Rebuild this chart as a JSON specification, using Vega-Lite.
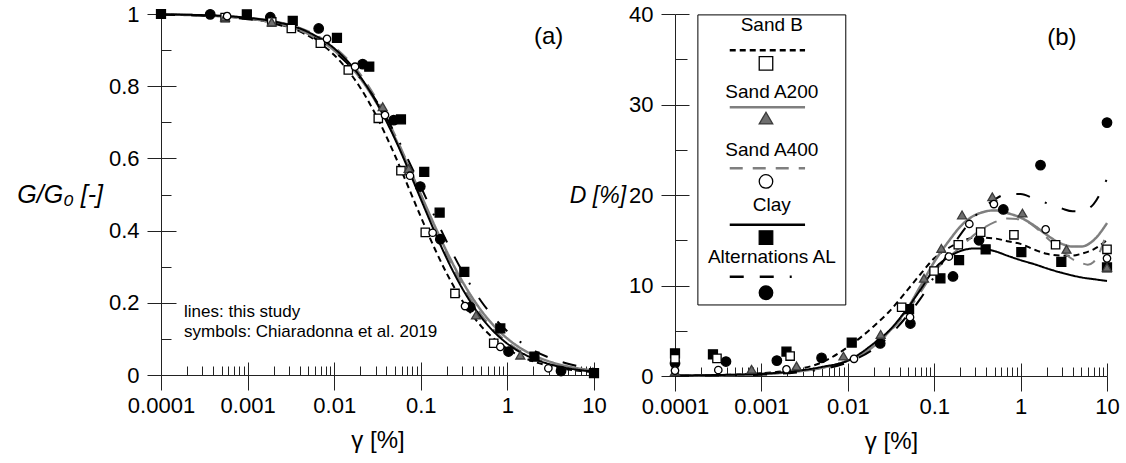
{
  "$schema": "https://vega.github.io/schema/vega-lite/v6.json",
  "background": "white",
  "padding": {"left": 16, "top": 3, "right": 5, "bottom": 5},
  "config": {
    "view": {"stroke": null},
    "font": "Liberation Sans",
    "axis": {
      "grid": false, "domainColor": "#222222", "tickColor": "#222222", "domainWidth": 1, "tickWidth": 1,
      "labelFont": "Liberation Sans", "labelFontSize": 22, "labelColor": "#000000",
      "titleFont": "Liberation Sans", "titleFontSize": 24, "titleFontWeight": "normal", "titleColor": "#000000",
      "labelFlush": false, "labelOverlap": false
    }
  },
  "datasets": {
    "gl": [
      {"series": "Sand B", "gamma": 0.0001, "G": 0.9987}, {"series": "Sand B", "gamma": 0.0002, "G": 0.9974}, {"series": "Sand B", "gamma": 0.0005, "G": 0.9936}, {"series": "Sand B", "gamma": 0.001, "G": 0.9873}, {"series": "Sand B", "gamma": 0.002, "G": 0.975}, {"series": "Sand B", "gamma": 0.005, "G": 0.9398}, {"series": "Sand B", "gamma": 0.01, "G": 0.8864}, {"series": "Sand B", "gamma": 0.02, "G": 0.7959}, {"series": "Sand B", "gamma": 0.03, "G": 0.7222}, {"series": "Sand B", "gamma": 0.05, "G": 0.6094}, {"series": "Sand B", "gamma": 0.07, "G": 0.527}, {"series": "Sand B", "gamma": 0.1, "G": 0.4382}, {"series": "Sand B", "gamma": 0.15, "G": 0.3421}, {"series": "Sand B", "gamma": 0.2, "G": 0.2806}, {"series": "Sand B", "gamma": 0.3, "G": 0.2063}, {"series": "Sand B", "gamma": 0.5, "G": 0.1349}, {"series": "Sand B", "gamma": 0.7, "G": 0.1003}, {"series": "Sand B", "gamma": 1, "G": 0.0724}, {"series": "Sand B", "gamma": 2, "G": 0.0375}, {"series": "Sand B", "gamma": 3, "G": 0.0253}, {"series": "Sand B", "gamma": 5, "G": 0.0154}, {"series": "Sand B", "gamma": 7, "G": 0.011}, {"series": "Sand B", "gamma": 10, "G": 0.0077},
      {"series": "Sand A200", "gamma": 0.0001, "G": 0.9986}, {"series": "Sand A200", "gamma": 0.0002, "G": 0.9973}, {"series": "Sand A200", "gamma": 0.0005, "G": 0.9935}, {"series": "Sand A200", "gamma": 0.001, "G": 0.9876}, {"series": "Sand A200", "gamma": 0.002, "G": 0.9763}, {"series": "Sand A200", "gamma": 0.005, "G": 0.9451}, {"series": "Sand A200", "gamma": 0.01, "G": 0.8991}, {"series": "Sand A200", "gamma": 0.02, "G": 0.8218}, {"series": "Sand A200", "gamma": 0.03, "G": 0.7584}, {"series": "Sand A200", "gamma": 0.05, "G": 0.6589}, {"series": "Sand A200", "gamma": 0.07, "G": 0.5838}, {"series": "Sand A200", "gamma": 0.1, "G": 0.5}, {"series": "Sand A200", "gamma": 0.15, "G": 0.4049}, {"series": "Sand A200", "gamma": 0.2, "G": 0.3411}, {"series": "Sand A200", "gamma": 0.3, "G": 0.2604}, {"series": "Sand A200", "gamma": 0.5, "G": 0.1782}, {"series": "Sand A200", "gamma": 0.7, "G": 0.1361}, {"series": "Sand A200", "gamma": 1, "G": 0.1009}, {"series": "Sand A200", "gamma": 2, "G": 0.0549}, {"series": "Sand A200", "gamma": 3, "G": 0.038}, {"series": "Sand A200", "gamma": 5, "G": 0.0238}, {"series": "Sand A200", "gamma": 7, "G": 0.0174}, {"series": "Sand A200", "gamma": 10, "G": 0.0124},
      {"series": "Sand A400", "gamma": 0.0001, "G": 0.999}, {"series": "Sand A400", "gamma": 0.0002, "G": 0.998}, {"series": "Sand A400", "gamma": 0.0005, "G": 0.995}, {"series": "Sand A400", "gamma": 0.001, "G": 0.9901}, {"series": "Sand A400", "gamma": 0.002, "G": 0.9804}, {"series": "Sand A400", "gamma": 0.005, "G": 0.9524}, {"series": "Sand A400", "gamma": 0.01, "G": 0.9091}, {"series": "Sand A400", "gamma": 0.02, "G": 0.8333}, {"series": "Sand A400", "gamma": 0.03, "G": 0.7692}, {"series": "Sand A400", "gamma": 0.05, "G": 0.6667}, {"series": "Sand A400", "gamma": 0.07, "G": 0.5882}, {"series": "Sand A400", "gamma": 0.1, "G": 0.5}, {"series": "Sand A400", "gamma": 0.15, "G": 0.4}, {"series": "Sand A400", "gamma": 0.2, "G": 0.3333}, {"series": "Sand A400", "gamma": 0.3, "G": 0.25}, {"series": "Sand A400", "gamma": 0.5, "G": 0.1667}, {"series": "Sand A400", "gamma": 0.7, "G": 0.125}, {"series": "Sand A400", "gamma": 1, "G": 0.0909}, {"series": "Sand A400", "gamma": 2, "G": 0.0476}, {"series": "Sand A400", "gamma": 3, "G": 0.0323}, {"series": "Sand A400", "gamma": 5, "G": 0.0196}, {"series": "Sand A400", "gamma": 7, "G": 0.0141}, {"series": "Sand A400", "gamma": 10, "G": 0.0099},
      {"series": "Clay", "gamma": 0.0001, "G": 0.9989}, {"series": "Clay", "gamma": 0.0002, "G": 0.9979}, {"series": "Clay", "gamma": 0.0005, "G": 0.9948}, {"series": "Clay", "gamma": 0.001, "G": 0.9896}, {"series": "Clay", "gamma": 0.002, "G": 0.9794}, {"series": "Clay", "gamma": 0.005, "G": 0.95}, {"series": "Clay", "gamma": 0.01, "G": 0.9048}, {"series": "Clay", "gamma": 0.02, "G": 0.8261}, {"series": "Clay", "gamma": 0.03, "G": 0.76}, {"series": "Clay", "gamma": 0.05, "G": 0.6552}, {"series": "Clay", "gamma": 0.07, "G": 0.5758}, {"series": "Clay", "gamma": 0.1, "G": 0.4872}, {"series": "Clay", "gamma": 0.15, "G": 0.3878}, {"series": "Clay", "gamma": 0.2, "G": 0.322}, {"series": "Clay", "gamma": 0.3, "G": 0.2405}, {"series": "Clay", "gamma": 0.5, "G": 0.1597}, {"series": "Clay", "gamma": 0.7, "G": 0.1195}, {"series": "Clay", "gamma": 1, "G": 0.0867}, {"series": "Clay", "gamma": 2, "G": 0.0454}, {"series": "Clay", "gamma": 3, "G": 0.0307}, {"series": "Clay", "gamma": 5, "G": 0.0187}, {"series": "Clay", "gamma": 7, "G": 0.0134}, {"series": "Clay", "gamma": 10, "G": 0.0094},
      {"series": "Alternations AL", "gamma": 0.0001, "G": 0.9982}, {"series": "Alternations AL", "gamma": 0.0002, "G": 0.9966}, {"series": "Alternations AL", "gamma": 0.0005, "G": 0.9923}, {"series": "Alternations AL", "gamma": 0.001, "G": 0.9857}, {"series": "Alternations AL", "gamma": 0.002, "G": 0.9735}, {"series": "Alternations AL", "gamma": 0.005, "G": 0.9417}, {"series": "Alternations AL", "gamma": 0.01, "G": 0.8964}, {"series": "Alternations AL", "gamma": 0.02, "G": 0.8225}, {"series": "Alternations AL", "gamma": 0.03, "G": 0.763}, {"series": "Alternations AL", "gamma": 0.05, "G": 0.6702}, {"series": "Alternations AL", "gamma": 0.07, "G": 0.6003}, {"series": "Alternations AL", "gamma": 0.1, "G": 0.5214}, {"series": "Alternations AL", "gamma": 0.15, "G": 0.4307}, {"series": "Alternations AL", "gamma": 0.2, "G": 0.3686}, {"series": "Alternations AL", "gamma": 0.3, "G": 0.2884}, {"series": "Alternations AL", "gamma": 0.5, "G": 0.2037}, {"series": "Alternations AL", "gamma": 0.7, "G": 0.159}, {"series": "Alternations AL", "gamma": 1, "G": 0.1206}, {"series": "Alternations AL", "gamma": 2, "G": 0.0685}, {"series": "Alternations AL", "gamma": 3, "G": 0.0485}, {"series": "Alternations AL", "gamma": 5, "G": 0.0312}, {"series": "Alternations AL", "gamma": 7, "G": 0.0233}, {"series": "Alternations AL", "gamma": 10, "G": 0.017}
    ],
    "gp": [
      {"series": "Clay", "gamma": 0.0001, "G": 1.0}, {"series": "Clay", "gamma": 0.00098, "G": 0.999}, {"series": "Clay", "gamma": 0.00332, "G": 0.981}, {"series": "Clay", "gamma": 0.01076, "G": 0.934}, {"series": "Clay", "gamma": 0.0254, "G": 0.854}, {"series": "Clay", "gamma": 0.059, "G": 0.708}, {"series": "Clay", "gamma": 0.1096, "G": 0.563}, {"series": "Clay", "gamma": 0.165, "G": 0.45}, {"series": "Clay", "gamma": 0.318, "G": 0.286}, {"series": "Clay", "gamma": 0.828, "G": 0.129}, {"series": "Clay", "gamma": 2.05, "G": 0.051}, {"series": "Clay", "gamma": 10, "G": 0.005},
      {"series": "Alternations AL", "gamma": 0.00037, "G": 0.999}, {"series": "Alternations AL", "gamma": 0.00183, "G": 0.991}, {"series": "Alternations AL", "gamma": 0.00662, "G": 0.96}, {"series": "Alternations AL", "gamma": 0.0213, "G": 0.861}, {"series": "Alternations AL", "gamma": 0.0487, "G": 0.706}, {"series": "Alternations AL", "gamma": 0.0986, "G": 0.522}, {"series": "Alternations AL", "gamma": 0.168, "G": 0.376}, {"series": "Alternations AL", "gamma": 0.373, "G": 0.188}, {"series": "Alternations AL", "gamma": 1.03, "G": 0.065}, {"series": "Alternations AL", "gamma": 4.16, "G": 0.011},
      {"series": "Sand B", "gamma": 0.00055, "G": 0.99}, {"series": "Sand B", "gamma": 0.0019, "G": 0.978}, {"series": "Sand B", "gamma": 0.0032, "G": 0.96}, {"series": "Sand B", "gamma": 0.00692, "G": 0.919}, {"series": "Sand B", "gamma": 0.01455, "G": 0.845}, {"series": "Sand B", "gamma": 0.0323, "G": 0.711}, {"series": "Sand B", "gamma": 0.059, "G": 0.566}, {"series": "Sand B", "gamma": 0.1127, "G": 0.395}, {"series": "Sand B", "gamma": 0.248, "G": 0.226}, {"series": "Sand B", "gamma": 0.695, "G": 0.088},
      {"series": "Sand A200", "gamma": 0.00055, "G": 0.992}, {"series": "Sand A200", "gamma": 0.0019, "G": 0.978}, {"series": "Sand A200", "gamma": 0.0363, "G": 0.743}, {"series": "Sand A200", "gamma": 0.0724, "G": 0.572}, {"series": "Sand A200", "gamma": 0.434, "G": 0.166}, {"series": "Sand A200", "gamma": 1.41, "G": 0.055},
      {"series": "Sand A400", "gamma": 0.00058, "G": 0.994}, {"series": "Sand A400", "gamma": 0.00826, "G": 0.931}, {"series": "Sand A400", "gamma": 0.0174, "G": 0.854}, {"series": "Sand A400", "gamma": 0.0386, "G": 0.72}, {"series": "Sand A400", "gamma": 0.075, "G": 0.552}, {"series": "Sand A400", "gamma": 0.137, "G": 0.394}, {"series": "Sand A400", "gamma": 0.324, "G": 0.191}, {"series": "Sand A400", "gamma": 0.828, "G": 0.078}, {"series": "Sand A400", "gamma": 2.97, "G": 0.0186}
    ],
    "dl": [
      {"series": "Sand B", "gamma": 0.0001, "D": 0.05}, {"series": "Sand B", "gamma": 0.0002, "D": 0.08}, {"series": "Sand B", "gamma": 0.0005, "D": 0.15}, {"series": "Sand B", "gamma": 0.001, "D": 0.3}, {"series": "Sand B", "gamma": 0.002, "D": 0.6}, {"series": "Sand B", "gamma": 0.005, "D": 1.5}, {"series": "Sand B", "gamma": 0.01, "D": 3.2}, {"series": "Sand B", "gamma": 0.02, "D": 5.5}, {"series": "Sand B", "gamma": 0.03, "D": 7.1}, {"series": "Sand B", "gamma": 0.05, "D": 9.6}, {"series": "Sand B", "gamma": 0.07, "D": 11.3}, {"series": "Sand B", "gamma": 0.1, "D": 13.0}, {"series": "Sand B", "gamma": 0.15, "D": 14.2}, {"series": "Sand B", "gamma": 0.2, "D": 14.8}, {"series": "Sand B", "gamma": 0.3, "D": 15.3}, {"series": "Sand B", "gamma": 0.5, "D": 15.2}, {"series": "Sand B", "gamma": 0.7, "D": 14.9}, {"series": "Sand B", "gamma": 1, "D": 14.6}, {"series": "Sand B", "gamma": 1.5, "D": 13.9}, {"series": "Sand B", "gamma": 2, "D": 13.5}, {"series": "Sand B", "gamma": 3, "D": 13.3}, {"series": "Sand B", "gamma": 4, "D": 13.3}, {"series": "Sand B", "gamma": 5, "D": 13.5}, {"series": "Sand B", "gamma": 7, "D": 14.0}, {"series": "Sand B", "gamma": 10, "D": 15.0},
      {"series": "Sand A200", "gamma": 0.0001, "D": 0.05}, {"series": "Sand A200", "gamma": 0.0002, "D": 0.07}, {"series": "Sand A200", "gamma": 0.0005, "D": 0.12}, {"series": "Sand A200", "gamma": 0.001, "D": 0.2}, {"series": "Sand A200", "gamma": 0.002, "D": 0.4}, {"series": "Sand A200", "gamma": 0.005, "D": 0.9}, {"series": "Sand A200", "gamma": 0.01, "D": 1.7}, {"series": "Sand A200", "gamma": 0.02, "D": 3.3}, {"series": "Sand A200", "gamma": 0.03, "D": 4.9}, {"series": "Sand A200", "gamma": 0.05, "D": 7.6}, {"series": "Sand A200", "gamma": 0.07, "D": 10.0}, {"series": "Sand A200", "gamma": 0.1, "D": 12.6}, {"series": "Sand A200", "gamma": 0.15, "D": 15.0}, {"series": "Sand A200", "gamma": 0.2, "D": 16.5}, {"series": "Sand A200", "gamma": 0.3, "D": 17.8}, {"series": "Sand A200", "gamma": 0.5, "D": 18.3}, {"series": "Sand A200", "gamma": 0.7, "D": 18.0}, {"series": "Sand A200", "gamma": 1, "D": 17.5}, {"series": "Sand A200", "gamma": 1.5, "D": 16.5}, {"series": "Sand A200", "gamma": 2, "D": 15.6}, {"series": "Sand A200", "gamma": 3, "D": 14.6}, {"series": "Sand A200", "gamma": 4, "D": 14.3}, {"series": "Sand A200", "gamma": 5, "D": 14.3}, {"series": "Sand A200", "gamma": 7, "D": 15.0}, {"series": "Sand A200", "gamma": 10, "D": 16.9},
      {"series": "Sand A400", "gamma": 0.0001, "D": 0.05}, {"series": "Sand A400", "gamma": 0.0002, "D": 0.07}, {"series": "Sand A400", "gamma": 0.0005, "D": 0.12}, {"series": "Sand A400", "gamma": 0.001, "D": 0.2}, {"series": "Sand A400", "gamma": 0.002, "D": 0.4}, {"series": "Sand A400", "gamma": 0.005, "D": 0.9}, {"series": "Sand A400", "gamma": 0.01, "D": 1.7}, {"series": "Sand A400", "gamma": 0.02, "D": 3.3}, {"series": "Sand A400", "gamma": 0.03, "D": 4.8}, {"series": "Sand A400", "gamma": 0.05, "D": 7.3}, {"series": "Sand A400", "gamma": 0.07, "D": 9.3}, {"series": "Sand A400", "gamma": 0.1, "D": 11.5}, {"series": "Sand A400", "gamma": 0.15, "D": 13.2}, {"series": "Sand A400", "gamma": 0.2, "D": 14.2}, {"series": "Sand A400", "gamma": 0.3, "D": 15.7}, {"series": "Sand A400", "gamma": 0.5, "D": 17.0}, {"series": "Sand A400", "gamma": 0.7, "D": 17.4}, {"series": "Sand A400", "gamma": 1, "D": 17.3}, {"series": "Sand A400", "gamma": 1.5, "D": 16.4}, {"series": "Sand A400", "gamma": 2, "D": 15.3}, {"series": "Sand A400", "gamma": 3, "D": 13.8}, {"series": "Sand A400", "gamma": 4, "D": 12.9}, {"series": "Sand A400", "gamma": 5, "D": 12.5}, {"series": "Sand A400", "gamma": 6, "D": 12.3}, {"series": "Sand A400", "gamma": 7, "D": 12.6}, {"series": "Sand A400", "gamma": 8.5, "D": 14.0}, {"series": "Sand A400", "gamma": 10, "D": 16.0},
      {"series": "Clay", "gamma": 0.0001, "D": 0.05}, {"series": "Clay", "gamma": 0.0002, "D": 0.08}, {"series": "Clay", "gamma": 0.0005, "D": 0.15}, {"series": "Clay", "gamma": 0.001, "D": 0.25}, {"series": "Clay", "gamma": 0.002, "D": 0.45}, {"series": "Clay", "gamma": 0.005, "D": 1.0}, {"series": "Clay", "gamma": 0.01, "D": 1.7}, {"series": "Clay", "gamma": 0.02, "D": 3.6}, {"series": "Clay", "gamma": 0.03, "D": 5.0}, {"series": "Clay", "gamma": 0.05, "D": 7.6}, {"series": "Clay", "gamma": 0.07, "D": 9.6}, {"series": "Clay", "gamma": 0.1, "D": 11.8}, {"series": "Clay", "gamma": 0.15, "D": 13.2}, {"series": "Clay", "gamma": 0.2, "D": 13.8}, {"series": "Clay", "gamma": 0.3, "D": 14.1}, {"series": "Clay", "gamma": 0.5, "D": 13.8}, {"series": "Clay", "gamma": 0.7, "D": 13.3}, {"series": "Clay", "gamma": 1, "D": 12.8}, {"series": "Clay", "gamma": 1.5, "D": 12.3}, {"series": "Clay", "gamma": 2, "D": 11.9}, {"series": "Clay", "gamma": 3, "D": 11.4}, {"series": "Clay", "gamma": 4, "D": 11.1}, {"series": "Clay", "gamma": 5, "D": 10.9}, {"series": "Clay", "gamma": 7, "D": 10.7}, {"series": "Clay", "gamma": 10, "D": 10.5},
      {"series": "Alternations AL", "gamma": 0.0001, "D": 0.02}, {"series": "Alternations AL", "gamma": 0.0002, "D": 0.04}, {"series": "Alternations AL", "gamma": 0.0005, "D": 0.08}, {"series": "Alternations AL", "gamma": 0.001, "D": 0.15}, {"series": "Alternations AL", "gamma": 0.002, "D": 0.3}, {"series": "Alternations AL", "gamma": 0.005, "D": 0.75}, {"series": "Alternations AL", "gamma": 0.01, "D": 1.5}, {"series": "Alternations AL", "gamma": 0.02, "D": 3.0}, {"series": "Alternations AL", "gamma": 0.03, "D": 4.4}, {"series": "Alternations AL", "gamma": 0.05, "D": 6.8}, {"series": "Alternations AL", "gamma": 0.07, "D": 8.6}, {"series": "Alternations AL", "gamma": 0.1, "D": 11.0}, {"series": "Alternations AL", "gamma": 0.15, "D": 13.8}, {"series": "Alternations AL", "gamma": 0.2, "D": 15.6}, {"series": "Alternations AL", "gamma": 0.3, "D": 17.7}, {"series": "Alternations AL", "gamma": 0.5, "D": 19.5}, {"series": "Alternations AL", "gamma": 0.7, "D": 20.1}, {"series": "Alternations AL", "gamma": 1, "D": 20.1}, {"series": "Alternations AL", "gamma": 1.5, "D": 19.5}, {"series": "Alternations AL", "gamma": 2, "D": 19.1}, {"series": "Alternations AL", "gamma": 3, "D": 18.5}, {"series": "Alternations AL", "gamma": 4, "D": 18.2}, {"series": "Alternations AL", "gamma": 5, "D": 18.2}, {"series": "Alternations AL", "gamma": 7, "D": 19.0}, {"series": "Alternations AL", "gamma": 10, "D": 21.8}
    ],
    "dp": [
      {"series": "Clay", "gamma": 0.0001, "D": 2.5}, {"series": "Clay", "gamma": 0.000275, "D": 2.4}, {"series": "Clay", "gamma": 0.00195, "D": 2.7}, {"series": "Clay", "gamma": 0.0111, "D": 3.7}, {"series": "Clay", "gamma": 0.0512, "D": 7.4}, {"series": "Clay", "gamma": 0.118, "D": 10.8}, {"series": "Clay", "gamma": 0.194, "D": 12.8}, {"series": "Clay", "gamma": 0.394, "D": 14.0}, {"series": "Clay", "gamma": 1.02, "D": 13.7}, {"series": "Clay", "gamma": 2.96, "D": 12.6}, {"series": "Clay", "gamma": 10, "D": 12.0},
      {"series": "Alternations AL", "gamma": 0.0001, "D": 1.4}, {"series": "Alternations AL", "gamma": 0.000389, "D": 1.6}, {"series": "Alternations AL", "gamma": 0.00151, "D": 1.7}, {"series": "Alternations AL", "gamma": 0.00497, "D": 2.0}, {"series": "Alternations AL", "gamma": 0.0237, "D": 3.6}, {"series": "Alternations AL", "gamma": 0.053, "D": 5.8}, {"series": "Alternations AL", "gamma": 0.165, "D": 11.0}, {"series": "Alternations AL", "gamma": 0.33, "D": 15.0}, {"series": "Alternations AL", "gamma": 0.631, "D": 18.4}, {"series": "Alternations AL", "gamma": 1.7, "D": 23.3}, {"series": "Alternations AL", "gamma": 10, "D": 28.0},
      {"series": "Sand B", "gamma": 0.0001, "D": 1.9}, {"series": "Sand B", "gamma": 0.000306, "D": 1.95}, {"series": "Sand B", "gamma": 0.00215, "D": 2.2}, {"series": "Sand B", "gamma": 0.042, "D": 7.6}, {"series": "Sand B", "gamma": 0.0996, "D": 11.6}, {"series": "Sand B", "gamma": 0.19, "D": 14.5}, {"series": "Sand B", "gamma": 0.345, "D": 15.9}, {"series": "Sand B", "gamma": 0.837, "D": 15.6}, {"series": "Sand B", "gamma": 2.54, "D": 14.5}, {"series": "Sand B", "gamma": 10, "D": 14.0},
      {"series": "Sand A200", "gamma": 0.0001, "D": 0.5}, {"series": "Sand A200", "gamma": 0.00077, "D": 0.74}, {"series": "Sand A200", "gamma": 0.00255, "D": 1.1}, {"series": "Sand A200", "gamma": 0.0089, "D": 2.2}, {"series": "Sand A200", "gamma": 0.024, "D": 4.6}, {"series": "Sand A200", "gamma": 0.0762, "D": 10.8}, {"series": "Sand A200", "gamma": 0.121, "D": 14.1}, {"series": "Sand A200", "gamma": 0.21, "D": 17.8}, {"series": "Sand A200", "gamma": 0.471, "D": 19.8}, {"series": "Sand A200", "gamma": 1.05, "D": 18.0}, {"series": "Sand A200", "gamma": 3.4, "D": 14.0}, {"series": "Sand A200", "gamma": 10, "D": 12.0},
      {"series": "Sand A400", "gamma": 0.0001, "D": 0.6}, {"series": "Sand A400", "gamma": 0.000317, "D": 0.66}, {"series": "Sand A400", "gamma": 0.00195, "D": 0.74}, {"series": "Sand A400", "gamma": 0.0118, "D": 1.9}, {"series": "Sand A400", "gamma": 0.0525, "D": 6.5}, {"series": "Sand A400", "gamma": 0.148, "D": 13.2}, {"series": "Sand A400", "gamma": 0.255, "D": 16.8}, {"series": "Sand A400", "gamma": 0.491, "D": 19.0}, {"series": "Sand A400", "gamma": 1.95, "D": 16.2}, {"series": "Sand A400", "gamma": 10, "D": 13.0}
    ]
  },
  "bounds": "flush",
  "spacing": 81,
  "hconcat": [
    {
      "width": 433,
      "height": 361,
      "resolve": {"axis": {"x": "independent", "y": "independent"}},
      "layer": [
        {
          "data": {"name": "gl"},
          "mark": {"type": "line", "interpolate": "monotone"},
          "encoding": {
            "x": {"field": "gamma", "type": "quantitative", "scale": {"type": "log", "domain": [0.0001, 10]},
              "axis": {"orient": "bottom", "values": [0.0001, 0.001, 0.01, 0.1, 1, 10], "format": "~g", "tickSize": 15, "labelPadding": 5, "title": "γ [%]", "titlePadding": 12}},
            "y": {"field": "G", "type": "quantitative", "scale": {"domain": [0, 1]},
              "axis": {"orient": "left", "values": [0, 0.2, 0.4, 0.6, 0.8, 1], "format": "~g", "tickSize": 14, "labelPadding": 8, "title": "G/G₀ [-]", "titleFontSize": 25, "titleAngle": 0, "titleAlign": "right", "titleBaseline": "middle", "titlePadding": 6, "titleFontStyle": "italic"}},
            "detail": {"field": "series"},
            "color": {"field": "series", "type": "nominal", "legend": null, "scale": {"domain": ["Sand B", "Sand A200", "Sand A400", "Clay", "Alternations AL"], "range": ["#000000", "#7f7f7f", "#7f7f7f", "#000000", "#000000"]}},
            "strokeDash": {"field": "series", "type": "nominal", "legend": null, "scale": {"domain": ["Sand B", "Sand A200", "Sand A400", "Clay", "Alternations AL"], "range": [[6, 4], [1, 0], [13, 10], [1, 0], [14, 16, 14, 16, 2, 16]]}},
            "strokeWidth": {"field": "series", "type": "nominal", "legend": null, "scale": {"type": "ordinal", "domain": ["Sand B", "Sand A200", "Sand A400", "Clay", "Alternations AL"], "range": [2, 2.5, 2, 2, 2]}}
          }
        },
        {
          "data": {"name": "gp"},
          "mark": {"type": "point", "filled": true, "opacity": 1, "strokeWidth": 1.3},
          "encoding": {
            "x": {"field": "gamma", "type": "quantitative", "scale": {"type": "log", "domain": [0.0001, 10]},
              "axis": {"orient": "bottom", "values": [0.0001, 0.0002, 0.0003, 0.0004, 0.0005, 0.0006, 0.0007, 0.0008, 0.0009, 0.001, 0.002, 0.003, 0.004, 0.005, 0.006, 0.007, 0.008, 0.009, 0.01, 0.02, 0.03, 0.04, 0.05, 0.06, 0.07, 0.08, 0.09, 0.1, 0.2, 0.3, 0.4, 0.5, 0.6, 0.7, 0.8, 0.9, 1, 2, 3, 4, 5, 6, 7, 8, 9, 10],
                "tickSize": {"condition": {"test": "abs(log(datum.value)/LN10 - round(log(datum.value)/LN10)) < 0.001", "value": -13}, "value": -9},
                "labels": false, "domain": false, "title": null}},
            "y": {"field": "G", "type": "quantitative", "scale": {"domain": [0, 1]},
              "axis": {"orient": "left", "values": [0, 0.1, 0.2, 0.3, 0.4, 0.5, 0.6, 0.7, 0.8, 0.9, 1],
                "tickSize": {"condition": {"test": "abs(datum.value*5 - round(datum.value*5)) < 0.001", "value": -15}, "value": -10},
                "labels": false, "domain": false, "title": null}},
            "shape": {"field": "series", "type": "nominal", "legend": null, "scale": {"domain": ["Sand B", "Sand A200", "Sand A400", "Clay", "Alternations AL"], "range": ["square", "triangle-up", "circle", "square", "circle"]}},
            "fill": {"field": "series", "type": "nominal", "legend": null, "scale": {"domain": ["Sand B", "Sand A200", "Sand A400", "Clay", "Alternations AL"], "range": ["#ffffff", "#6e6e6e", "#ffffff", "#000000", "#000000"]}},
            "stroke": {"field": "series", "type": "nominal", "legend": null, "scale": {"domain": ["Sand B", "Sand A200", "Sand A400", "Clay", "Alternations AL"], "range": ["#000000", "#3a3a3a", "#000000", "#000000", "#000000"]}},
            "size": {"field": "series", "type": "nominal", "legend": null, "scale": {"type": "ordinal", "domain": ["Sand B", "Sand A200", "Sand A400", "Clay", "Alternations AL"], "range": [70, 80, 55, 80, 90]}}
          }
        },
        {
          "data": {"values": [{"note": ["lines: this study", "symbols: Chiaradonna et al. 2019"]}]},
          "mark": {"type": "text", "align": "left", "baseline": "alphabetic", "fontSize": 17, "lineHeight": 20, "font": "Liberation Sans", "color": "#000000"},
          "encoding": {
            "x": {"datum": 0.0001845, "type": "quantitative", "scale": {"type": "log", "domain": [0.0001, 10]}, "axis": null},
            "y": {"datum": 0.1615, "type": "quantitative", "axis": null},
            "text": {"field": "note"}
          }
        },
        {
          "data": {"values": [{"panel": "(a)"}]},
          "mark": {"type": "text", "align": "left", "baseline": "middle", "fontSize": 24, "font": "Liberation Sans", "color": "#000000"},
          "encoding": {
            "x": {"datum": 2.03, "type": "quantitative", "scale": {"type": "log", "domain": [0.0001, 10]}, "axis": null},
            "y": {"datum": 0.935, "type": "quantitative", "axis": null},
            "text": {"field": "panel"}
          }
        }
      ]
    },
    {
      "width": 432,
      "height": 362,
      "resolve": {"axis": {"x": "independent", "y": "independent"}},
      "layer": [
        {
          "data": {"name": "dl"},
          "mark": {"type": "line", "interpolate": "monotone"},
          "encoding": {
            "x": {"field": "gamma", "type": "quantitative", "scale": {"type": "log", "domain": [0.0001, 10]},
              "axis": {"orient": "bottom", "values": [0.0001, 0.001, 0.01, 0.1, 1, 10], "format": "~g", "tickSize": 15, "labelPadding": 5, "title": "γ [%]", "titlePadding": 12}},
            "y": {"field": "D", "type": "quantitative", "scale": {"domain": [0, 40]},
              "axis": {"orient": "left", "values": [0, 10, 20, 30, 40], "format": "d", "tickSize": 14, "labelPadding": 8, "title": "D [%]", "titleFontSize": 23, "titleAngle": 0, "titleAlign": "right", "titleBaseline": "middle", "titlePadding": 3, "titleFontStyle": "italic"}},
            "detail": {"field": "series"},
            "color": {"field": "series", "type": "nominal", "legend": null, "scale": {"domain": ["Sand B", "Sand A200", "Sand A400", "Clay", "Alternations AL"], "range": ["#000000", "#7f7f7f", "#7f7f7f", "#000000", "#000000"]}},
            "strokeDash": {"field": "series", "type": "nominal", "legend": null, "scale": {"domain": ["Sand B", "Sand A200", "Sand A400", "Clay", "Alternations AL"], "range": [[6, 4], [1, 0], [13, 10], [1, 0], [14, 16, 14, 16, 2, 16]]}},
            "strokeWidth": {"field": "series", "type": "nominal", "legend": null, "scale": {"type": "ordinal", "domain": ["Sand B", "Sand A200", "Sand A400", "Clay", "Alternations AL"], "range": [2, 2.5, 2, 2, 2]}}
          }
        },
        {
          "data": {"name": "dp"},
          "mark": {"type": "point", "filled": true, "opacity": 1, "strokeWidth": 1.3},
          "encoding": {
            "x": {"field": "gamma", "type": "quantitative", "scale": {"type": "log", "domain": [0.0001, 10]},
              "axis": {"orient": "bottom", "values": [0.0001, 0.0002, 0.0003, 0.0004, 0.0005, 0.0006, 0.0007, 0.0008, 0.0009, 0.001, 0.002, 0.003, 0.004, 0.005, 0.006, 0.007, 0.008, 0.009, 0.01, 0.02, 0.03, 0.04, 0.05, 0.06, 0.07, 0.08, 0.09, 0.1, 0.2, 0.3, 0.4, 0.5, 0.6, 0.7, 0.8, 0.9, 1, 2, 3, 4, 5, 6, 7, 8, 9, 10],
                "tickSize": {"condition": {"test": "abs(log(datum.value)/LN10 - round(log(datum.value)/LN10)) < 0.001", "value": -13}, "value": -9},
                "labels": false, "domain": false, "title": null}},
            "y": {"field": "D", "type": "quantitative", "scale": {"domain": [0, 40]},
              "axis": {"orient": "left", "values": [0, 5, 10, 15, 20, 25, 30, 35, 40],
                "tickSize": {"condition": {"test": "datum.value % 10 == 0", "value": -14}, "value": -12},
                "labels": false, "domain": false, "title": null}},
            "shape": {"field": "series", "type": "nominal", "legend": null, "scale": {"domain": ["Sand B", "Sand A200", "Sand A400", "Clay", "Alternations AL"], "range": ["square", "triangle-up", "circle", "square", "circle"]}},
            "fill": {"field": "series", "type": "nominal", "legend": null, "scale": {"domain": ["Sand B", "Sand A200", "Sand A400", "Clay", "Alternations AL"], "range": ["#ffffff", "#6e6e6e", "#ffffff", "#000000", "#000000"]}},
            "stroke": {"field": "series", "type": "nominal", "legend": null, "scale": {"domain": ["Sand B", "Sand A200", "Sand A400", "Clay", "Alternations AL"], "range": ["#000000", "#3a3a3a", "#000000", "#000000", "#000000"]}},
            "size": {"field": "series", "type": "nominal", "legend": null, "scale": {"type": "ordinal", "domain": ["Sand B", "Sand A200", "Sand A400", "Clay", "Alternations AL"], "range": [70, 80, 55, 80, 90]}}
          }
        },
        {
          "data": {"values": [{"box": "legend"}]},
          "mark": {"type": "rect", "fill": "#ffffff", "stroke": "#000000", "strokeWidth": 1},
          "encoding": {
            "x": {"datum": 0.000184, "type": "quantitative", "scale": {"type": "log", "domain": [0.0001, 10]}, "axis": null},
            "x2": {"datum": 0.00948},
            "y": {"datum": 7.85, "type": "quantitative", "axis": null},
            "y2": {"datum": 39.9}
          }
        },
        {"data": {"values": [{"series": "Sand B"}]}, "mark": {"type": "rule"},
          "encoding": {"x": {"datum": 0.00043, "type": "quantitative", "scale": {"type": "log", "domain": [0.0001, 10]}, "axis": null}, "x2": {"datum": 0.0032}, "y": {"datum": 36.0, "type": "quantitative", "axis": null},
            "color": {"field": "series", "type": "nominal", "legend": null}, "strokeDash": {"field": "series", "type": "nominal", "legend": null}, "strokeWidth": {"field": "series", "type": "nominal", "legend": null}}},
        {"data": {"values": [{"series": "Sand A200"}]}, "mark": {"type": "rule"},
          "encoding": {"x": {"datum": 0.00043, "type": "quantitative", "scale": {"type": "log", "domain": [0.0001, 10]}, "axis": null}, "x2": {"datum": 0.0032}, "y": {"datum": 29.7, "type": "quantitative", "axis": null},
            "color": {"field": "series", "type": "nominal", "legend": null}, "strokeDash": {"field": "series", "type": "nominal", "legend": null}, "strokeWidth": {"field": "series", "type": "nominal", "legend": null}}},
        {"data": {"values": [{"series": "Sand A400"}]}, "mark": {"type": "rule"},
          "encoding": {"x": {"datum": 0.00043, "type": "quantitative", "scale": {"type": "log", "domain": [0.0001, 10]}, "axis": null}, "x2": {"datum": 0.0032}, "y": {"datum": 22.95, "type": "quantitative", "axis": null},
            "color": {"field": "series", "type": "nominal", "legend": null}, "strokeDash": {"field": "series", "type": "nominal", "legend": null}, "strokeWidth": {"field": "series", "type": "nominal", "legend": null}}},
        {"data": {"values": [{"series": "Clay"}]}, "mark": {"type": "rule"},
          "encoding": {"x": {"datum": 0.00043, "type": "quantitative", "scale": {"type": "log", "domain": [0.0001, 10]}, "axis": null}, "x2": {"datum": 0.0032}, "y": {"datum": 16.7, "type": "quantitative", "axis": null},
            "color": {"field": "series", "type": "nominal", "legend": null}, "strokeDash": {"field": "series", "type": "nominal", "legend": null}, "strokeWidth": {"field": "series", "type": "nominal", "legend": null}}},
        {"data": {"values": [{"series": "Alternations AL"}]}, "mark": {"type": "rule"},
          "encoding": {"x": {"datum": 0.00043, "type": "quantitative", "scale": {"type": "log", "domain": [0.0001, 10]}, "axis": null}, "x2": {"datum": 0.0032}, "y": {"datum": 10.97, "type": "quantitative", "axis": null},
            "color": {"field": "series", "type": "nominal", "legend": null}, "strokeDash": {"field": "series", "type": "nominal", "legend": null}, "strokeWidth": {"field": "series", "type": "nominal", "legend": null}}},
        {"data": {"values": [{"series": "Sand B"}]}, "mark": {"type": "point", "filled": true, "opacity": 1, "strokeWidth": 1.3},
          "encoding": {"x": {"datum": 0.00113, "type": "quantitative", "scale": {"type": "log", "domain": [0.0001, 10]}, "axis": null}, "y": {"datum": 34.55, "type": "quantitative", "axis": null},
            "shape": {"field": "series", "type": "nominal", "legend": null}, "fill": {"field": "series", "type": "nominal", "legend": null}, "stroke": {"field": "series", "type": "nominal", "legend": null}, "size": {"field": "series", "type": "nominal", "legend": null}}},
        {"data": {"values": [{"series": "Sand A200"}]}, "mark": {"type": "point", "filled": true, "opacity": 1, "strokeWidth": 1.3},
          "encoding": {"x": {"datum": 0.00113, "type": "quantitative", "scale": {"type": "log", "domain": [0.0001, 10]}, "axis": null}, "y": {"datum": 28.5, "type": "quantitative", "axis": null},
            "shape": {"field": "series", "type": "nominal", "legend": null}, "fill": {"field": "series", "type": "nominal", "legend": null}, "stroke": {"field": "series", "type": "nominal", "legend": null}, "size": {"field": "series", "type": "nominal", "legend": null}}},
        {"data": {"values": [{"series": "Sand A400"}]}, "mark": {"type": "point", "filled": true, "opacity": 1, "strokeWidth": 1.3},
          "encoding": {"x": {"datum": 0.00113, "type": "quantitative", "scale": {"type": "log", "domain": [0.0001, 10]}, "axis": null}, "y": {"datum": 21.5, "type": "quantitative", "axis": null},
            "shape": {"field": "series", "type": "nominal", "legend": null}, "fill": {"field": "series", "type": "nominal", "legend": null}, "stroke": {"field": "series", "type": "nominal", "legend": null}, "size": {"field": "series", "type": "nominal", "legend": null}}},
        {"data": {"values": [{"series": "Clay"}]}, "mark": {"type": "point", "filled": true, "opacity": 1, "strokeWidth": 1.3},
          "encoding": {"x": {"datum": 0.00113, "type": "quantitative", "scale": {"type": "log", "domain": [0.0001, 10]}, "axis": null}, "y": {"datum": 15.3, "type": "quantitative", "axis": null},
            "shape": {"field": "series", "type": "nominal", "legend": null}, "fill": {"field": "series", "type": "nominal", "legend": null}, "stroke": {"field": "series", "type": "nominal", "legend": null}, "size": {"field": "series", "type": "nominal", "legend": null}}},
        {"data": {"values": [{"series": "Alternations AL"}]}, "mark": {"type": "point", "filled": true, "opacity": 1, "strokeWidth": 1.3},
          "encoding": {"x": {"datum": 0.00113, "type": "quantitative", "scale": {"type": "log", "domain": [0.0001, 10]}, "axis": null}, "y": {"datum": 9.2, "type": "quantitative", "axis": null},
            "shape": {"field": "series", "type": "nominal", "legend": null}, "fill": {"field": "series", "type": "nominal", "legend": null}, "stroke": {"field": "series", "type": "nominal", "legend": null}, "size": {"field": "series", "type": "nominal", "legend": null}}},
        {"data": {"values": [{"label": "Sand B"}]}, "mark": {"type": "text", "align": "center", "baseline": "middle", "fontSize": 19, "font": "Liberation Sans", "color": "#000000"},
          "encoding": {"x": {"datum": 0.00132, "type": "quantitative", "scale": {"type": "log", "domain": [0.0001, 10]}, "axis": null}, "y": {"datum": 38.8, "type": "quantitative", "axis": null}, "text": {"field": "label"}}},
        {"data": {"values": [{"label": "Sand A200"}]}, "mark": {"type": "text", "align": "center", "baseline": "middle", "fontSize": 19, "font": "Liberation Sans", "color": "#000000"},
          "encoding": {"x": {"datum": 0.00132, "type": "quantitative", "scale": {"type": "log", "domain": [0.0001, 10]}, "axis": null}, "y": {"datum": 31.33, "type": "quantitative", "axis": null}, "text": {"field": "label"}}},
        {"data": {"values": [{"label": "Sand A400"}]}, "mark": {"type": "text", "align": "center", "baseline": "middle", "fontSize": 19, "font": "Liberation Sans", "color": "#000000"},
          "encoding": {"x": {"datum": 0.00132, "type": "quantitative", "scale": {"type": "log", "domain": [0.0001, 10]}, "axis": null}, "y": {"datum": 24.92, "type": "quantitative", "axis": null}, "text": {"field": "label"}}},
        {"data": {"values": [{"label": "Clay"}]}, "mark": {"type": "text", "align": "center", "baseline": "middle", "fontSize": 19, "font": "Liberation Sans", "color": "#000000"},
          "encoding": {"x": {"datum": 0.00132, "type": "quantitative", "scale": {"type": "log", "domain": [0.0001, 10]}, "axis": null}, "y": {"datum": 18.9, "type": "quantitative", "axis": null}, "text": {"field": "label"}}},
        {"data": {"values": [{"label": "Alternations AL"}]}, "mark": {"type": "text", "align": "center", "baseline": "middle", "fontSize": 19, "font": "Liberation Sans", "color": "#000000"},
          "encoding": {"x": {"datum": 0.00132, "type": "quantitative", "scale": {"type": "log", "domain": [0.0001, 10]}, "axis": null}, "y": {"datum": 13.15, "type": "quantitative", "axis": null}, "text": {"field": "label"}}},
        {
          "data": {"values": [{"panel": "(b)"}]},
          "mark": {"type": "text", "align": "left", "baseline": "middle", "fontSize": 24, "font": "Liberation Sans", "color": "#000000"},
          "encoding": {
            "x": {"datum": 2.03, "type": "quantitative", "scale": {"type": "log", "domain": [0.0001, 10]}, "axis": null},
            "y": {"datum": 37.4, "type": "quantitative", "axis": null},
            "text": {"field": "panel"}
          }
        }
      ]
    }
  ]
}
